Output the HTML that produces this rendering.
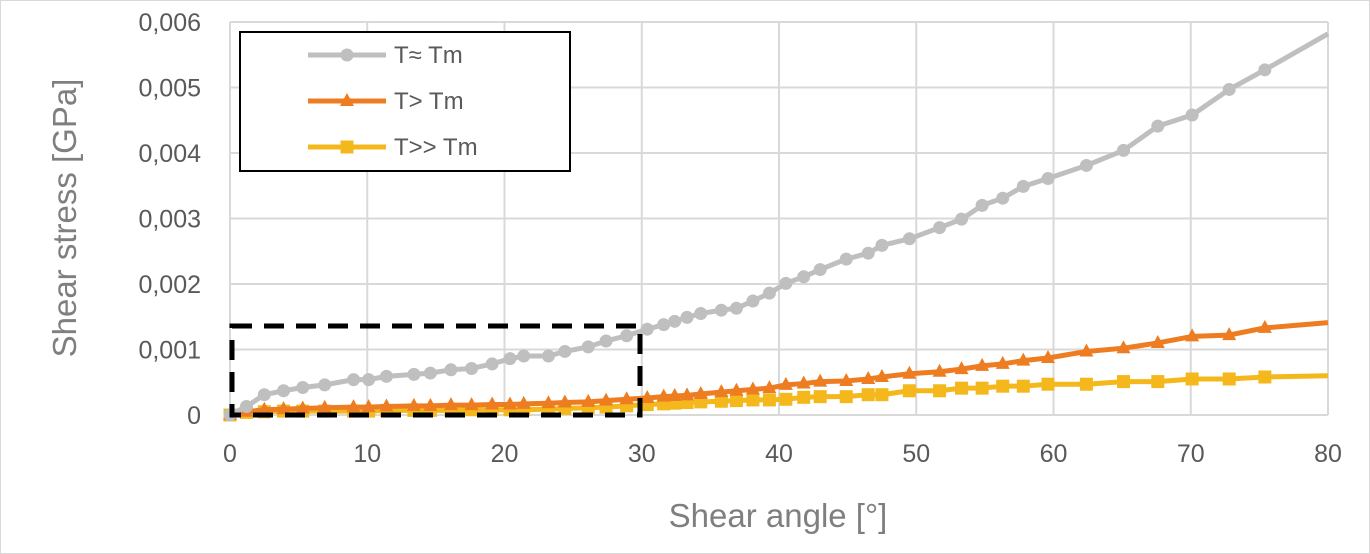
<!DOCTYPE html>
<html><head><meta charset="utf-8"><style>
body{margin:0;background:#fff;font-family:"Liberation Sans",sans-serif}
svg{display:block}
</style></head><body>
<svg id="c" width="1370" height="554" xmlns="http://www.w3.org/2000/svg">
<rect x="0.5" y="0.5" width="1369" height="553" fill="#fff" stroke="#d9d9d9"/>
<g id="grid"></g><g id="series"></g><g id="labels"></g>
<rect x="232" y="326" width="408" height="89" fill="none" stroke="#000" stroke-width="5" stroke-dasharray="20,12"/>
<g>
<rect x="240" y="32" width="330" height="139" fill="#fff" stroke="#000" stroke-width="2"/>
<g id="legend"></g>
</g>
<text x="778" y="527" text-anchor="middle" font-size="33" fill="#7f7f7f">Shear angle [°]</text>
<text transform="translate(76,218) rotate(-90)" text-anchor="middle" font-size="33" fill="#7f7f7f">Shear stress [GPa]</text>
</svg>
<script>
const xTicks=[0,10,20,30,40,50,60,70,80];
const yTicks=[0,0.001,0.002,0.003,0.004,0.005,0.006];
const yTickLabels=["0","0,001","0,002","0,003","0,004","0,005","0,006"];
const seriesNames=["T\u2248 Tm","T> Tm","T>> Tm"];
const angles=[0,1.2,2.5,3.9,5.3,6.9,9.0,10.1,11.4,13.4,14.6,16.1,17.6,19.1,20.4,21.4,23.2,24.4,26.1,27.4,28.9,30.4,31.6,32.4,33.3,34.3,35.8,36.9,38.1,39.3,40.5,41.8,43.0,44.9,46.5,47.5,49.5,51.7,53.3,54.8,56.3,57.8,59.6,62.4,65.1,67.6,70.1,72.8,75.4,80];
const stressTm=[0,0.00013,0.00031,0.00037,0.00042,0.00046,0.00054,0.00054,0.00059,0.00062,0.00064,0.00069,0.00071,0.00078,0.00086,0.0009,0.0009,0.00097,0.00104,0.00113,0.00121,0.00131,0.00138,0.00143,0.00149,0.00155,0.0016,0.00163,0.00174,0.00186,0.00201,0.00211,0.00222,0.00238,0.00247,0.00259,0.00269,0.00286,0.00299,0.0032,0.00331,0.00349,0.00361,0.00381,0.00404,0.00441,0.00458,0.00497,0.00527,0.00582];
const stressAbove=[0,0.00005,0.00008,0.00009,0.0001,0.00011,0.00012,0.00012,0.00013,0.00014,0.00014,0.00015,0.00015,0.00016,0.00016,0.00017,0.00018,0.00019,0.0002,0.00022,0.00024,0.00026,0.00028,0.00029,0.0003,0.00032,0.00035,0.00037,0.00039,0.00041,0.00046,0.00048,0.00051,0.00052,0.00055,0.00058,0.00063,0.00066,0.0007,0.00075,0.00078,0.00083,0.00087,0.00097,0.00102,0.0011,0.0012,0.00122,0.00133,0.00141];
const stressFar=[0,0.00004,0.00005,0.00006,0.00006,0.00006,0.00006,0.00006,0.00007,0.00007,0.00007,0.00007,0.00008,0.00008,0.00008,0.00008,0.00009,0.0001,0.00011,0.00012,0.00014,0.00016,0.00017,0.00018,0.00019,0.0002,0.00021,0.00022,0.00023,0.00023,0.00024,0.00027,0.00028,0.00028,0.00031,0.00031,0.00037,0.00037,0.00041,0.00041,0.00044,0.00044,0.00047,0.00047,0.00051,0.00051,0.00055,0.00055,0.00058,0.0006];
const L=230,R=1328,T=22,B=415;
const sx=v=>L+(v-0)/(80-0)*(R-L);
const sy=v=>B-(v/0.006)*(B-T);
const NS="http://www.w3.org/2000/svg";
function mk(tag,attrs,parent){const e=document.createElementNS(NS,tag);for(const k in attrs)e.setAttribute(k,attrs[k]);parent.appendChild(e);return e;}
const grid=document.getElementById('grid'),lab=document.getElementById('labels'),ser=document.getElementById('series'),leg=document.getElementById('legend');
xTicks.forEach(t=>{
 const l=mk('line',{x1:sx(t),x2:sx(t),y1:T,y2:B,stroke:'#d9d9d9','stroke-width':2},grid);
 
 
 const tx=mk('text',{x:sx(t),y:462,'text-anchor':'middle','font-size':25,fill:'#595959'},lab);
 tx.textContent=t;
 
 
});
yTicks.forEach((t,i)=>{
 const l=mk('line',{x1:L,x2:R,y1:sy(t),y2:sy(t),stroke:'#d9d9d9','stroke-width':2},grid);
 
 
 const tx=mk('text',{x:201,y:sy(t)+9,'text-anchor':'end','font-size':25,fill:'#595959'},lab);
 tx.textContent=yTickLabels[i];
 
 
});
function marker(type,x,y,c,g){
 let m;
 if(type==='circle')m=mk('circle',{cx:x,cy:y,r:6.5,fill:c},g);
 else if(type==='tri')m=mk('polygon',{points:`${x},${y-8} ${x-7},${y+5} ${x+7},${y+5}`,fill:c},g);
 else m=mk('rect',{x:x-6.5,y:y-6.5,width:13,height:13,fill:c},g);
 return m;
}
const defs=[[stressFar,'#f4b81c','sq',2],[stressAbove,'#ee7d22','tri',1],[stressTm,'#bfbfbf','circle',0]];
defs.forEach(([ys,c,m,idx])=>{
 const g=mk('g',{},ser);
 
 
 const p=mk('polyline',{points:angles.map((a,i)=>sx(a)+','+sy(ys[i])).join(' '),fill:'none',stroke:c,'stroke-width':5,'stroke-linejoin':'round'},g);
 
 
 angles.forEach((a,i)=>{if(i===angles.length-1)return;
  const mm=marker(m,sx(a),sy(ys[i]),c,g);
  
  
 });
});
[['#bfbfbf','circle'],['#ee7d22','tri'],['#f4b81c','sq']].forEach(([c,m],i)=>{
 const y=55+i*46;
 const g=mk('g',{},leg);
 
 
 mk('line',{x1:308,x2:386,y1:y,y2:y,stroke:c,'stroke-width':5},g);
 marker(m,347,y,c,g);
 const t=mk('text',{x:394,y:y+8,'font-size':24,fill:'#595959'},g);
 t.textContent=seriesNames[i];
});
</script>
</body></html>
